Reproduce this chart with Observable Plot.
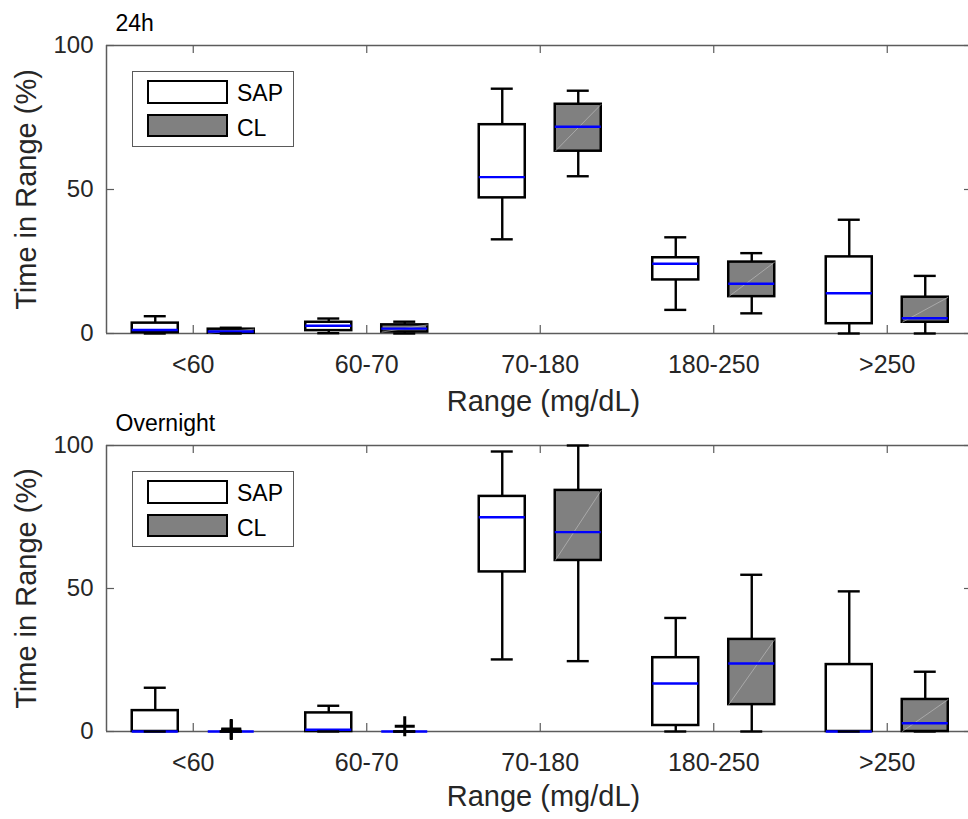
<!DOCTYPE html>
<html><head><meta charset="utf-8">
<script src="https://cdn.jsdelivr.net/npm/d3@7"></script>
<script src="https://cdn.jsdelivr.net/npm/@observablehq/plot@0.6"></script>
<style>
body{margin:0;background:#fff;font-family:"Liberation Sans",Arial,sans-serif;}
#wrap{position:relative;width:968px;height:819px;overflow:hidden;background:#fff;}
.panel{position:absolute;left:0;width:968px;}
.panel svg{display:block;}
.legend{position:absolute;left:132px;width:160px;height:74px;border:1px solid #5a5a5a;background:#fff;}
.sw{position:absolute;left:14px;width:77px;border:2px solid #000;}
.lt{position:absolute;left:104px;font-size:23px;line-height:23px;color:#000;white-space:nowrap;}
</style></head><body><div id="wrap"></div>
<script>
// ---- data ----
const categories = ["<60", "60-70", "70-180", "180-250", ">250"];
const groups = ["SAP", "CL"];
const panelTitles = ["24h", "Overnight"];
const xLabel = "Range (mg/dL)";
const yLabel = "Time in Range (%)";
const yTicks = [0, 50, 100];

// five-number summaries per category: [lower whisker, Q1, median, Q3, upper whisker]
const sap24 = [[0, 0.3, 1.2, 3.6, 6.0], [0.1, 1.0, 2.7, 3.9, 5.2], [32.7, 47.1, 54.3, 72.5, 85.0], [8.2, 18.6, 24.2, 26.3, 33.4], [0, 3.4, 14.0, 26.6, 39.5]];
const cl24 = [[0, 0.1, 0.7, 1.5, 2.0], [0, 0.5, 1.7, 3.0, 4.1], [54.6, 63.3, 71.8, 79.6, 84.3], [7.0, 12.8, 17.3, 24.8, 27.9], [0, 3.9, 5.3, 12.6, 20.0]];
const sapNight = [[0, 0, 0, 7.3, 15.3], [0, 0, 0.6, 6.5, 9.0], [25.2, 55.8, 74.9, 82.2, 97.9], [0, 2.1, 16.8, 25.8, 39.7], [0, 0, 0, 23.4, 49.0]];
const clNight = [[0, 0, 0, 0, 0], [0, 0, 0, 0, 0], [24.6, 59.8, 69.7, 84.3, 100], [0, 9.4, 23.8, 32.2, 54.8], [0, 0, 2.9, 11.2, 20.9]];
// outliers: [category index, group index, value]
const outliers24 = [];
const outliersNight = [[0, 1, 0.5], [0, 1, 0.9], [1, 1, 1.8]];

// ---- styles ----
const groupFill = ["#ffffff", "#808080"];
const axisColor = "#5c5c5c";
const textColor = "#262626";
const medianColor = "#0000ff";
const OFF = 0.219, HW = 0.1326, CW = 0.0634;
const W = 968, ML = 106;

function buildRows(sap, cl) {
  const rows = [];
  [sap, cl].forEach((s, gi) => {
    s.forEach((v, ci) => {
      const [lo, q1, med, q3, hi] = v;
      rows.push({group: groups[gi], gi, ci, x: ci + 1 + (gi === 0 ? -OFF : OFF), lo, q1, med, q3, hi});
    });
  });
  return rows;
}

function makePanel(sap, cl, outs, title, top, height, mTop, mBottom, xlabDy) {
  const rows = buildRows(sap, cl);
  const outRows = outs.map(([ci, gi, v]) => ({x: ci + 1 + (gi === 0 ? -OFF : OFF), v}));
  const innerH = height - mTop - mBottom;
  const innerW = W - ML;
  const xTicks = categories.map((_, i) => i + 1);
  const chart = Plot.plot({
    width: W, height,
    marginLeft: ML, marginRight: 0, marginTop: mTop, marginBottom: mBottom,
    x: {domain: [0.5, categories.length + 0.5], range: [ML, ML + 173.5 * categories.length], axis: null},
    y: {domain: [0, 100], axis: null},
    style: {fontFamily: '"Liberation Sans", Arial, sans-serif', color: textColor, background: "transparent", overflow: "visible"},
    marks: [
      // spines
      Plot.ruleY([0, 100], {stroke: axisColor, strokeWidth: 1.5}),
      Plot.ruleX([0.5, categories.length + 0.5], {stroke: axisColor, strokeWidth: 1.5}),
      // inward ticks
      Plot.ruleX(xTicks, {x: d => d, insetTop: innerH - 8, stroke: axisColor, strokeWidth: 1.2}),
      Plot.ruleX(xTicks, {x: d => d, insetBottom: innerH - 8, stroke: axisColor, strokeWidth: 1.2}),
      Plot.ruleY(yTicks, {y: d => d, insetRight: innerW - 8, stroke: axisColor, strokeWidth: 1.2}),
      Plot.ruleY(yTicks, {y: d => d, insetLeft: innerW - 4, stroke: axisColor, strokeWidth: 1.2}),
      // tick labels
      Plot.axisX(xTicks, {tickSize: 0, tickPadding: 22, tickFormat: i => categories[i - 1], fontSize: 25, label: null}),
      Plot.axisY(yTicks, {tickSize: 0, tickPadding: 13, fontSize: 24, label: null}),
      // whiskers
      Plot.ruleX(rows, {x: "x", y1: "q3", y2: "hi", stroke: "#000", strokeWidth: 2.4}),
      Plot.ruleX(rows, {x: "x", y1: "lo", y2: "q1", stroke: "#000", strokeWidth: 2.4}),
      // boxes
      Plot.rect(rows, {x1: d => d.x - HW, x2: d => d.x + HW, y1: "q1", y2: "q3", fill: d => groupFill[d.gi], stroke: "#000", strokeWidth: 2.5}),
      Plot.link(rows.filter(d => d.gi === 1 && d.q3 > d.q1), {x1: d => d.x - HW, y1: "q1", x2: d => d.x + HW, y2: "q3", stroke: "#c4c4c4", strokeWidth: 0.6}),
      // medians
      Plot.ruleY(rows, {y: "med", x1: d => d.x - HW, x2: d => d.x + HW, stroke: medianColor, strokeWidth: 2.4}),
      // caps
      Plot.ruleY(rows, {y: "hi", x1: d => d.x - CW, x2: d => d.x + CW, stroke: "#000", strokeWidth: 2.4}),
      Plot.ruleY(rows, {y: "lo", x1: d => d.x - CW, x2: d => d.x + CW, stroke: "#000", strokeWidth: 2.4}),
      // outliers
      Plot.dot(outRows, {x: "x", y: "v", symbol: "plus", r: 6.5, stroke: "#000", strokeWidth: 3}),
      // texts
      Plot.text([title], {frameAnchor: "top-left", dx: 9, dy: -15, lineAnchor: "bottom", textAnchor: "start", fontSize: 23, fill: "#000"}),
      Plot.text([xLabel], {frameAnchor: "bottom", dx: 6, dy: xlabDy, lineAnchor: "bottom", textAnchor: "middle", fontSize: 29, fill: textColor, letterSpacing: "1.2px"}),
      Plot.text([yLabel], {frameAnchor: "left", dx: -71, rotate: -90, lineAnchor: "bottom", textAnchor: "middle", fontSize: 29, fill: textColor, letterSpacing: "1.2px"})
    ]
  });
  const div = document.createElement("div");
  div.className = "panel";
  div.style.top = top + "px";
  div.style.height = height + "px";
  div.appendChild(chart);
  // legend
  const lg = document.createElement("div");
  lg.className = "legend";
  lg.style.top = (mTop + 26) + "px";
  groups.forEach((g, gi) => {
    const sw = document.createElement("div");
    sw.className = "sw";
    sw.style.top = (gi === 0 ? 8 : 42) + "px";
    sw.style.height = (gi === 0 ? 20 : 19) + "px";
    sw.style.background = groupFill[gi];
    lg.appendChild(sw);
    const t = document.createElement("div");
    t.className = "lt";
    t.style.top = (gi === 0 ? 10 : 44.5) + "px";
    t.textContent = g;
    lg.appendChild(t);
  });
  div.appendChild(lg);
  document.getElementById("wrap").appendChild(div);
}

makePanel(sap24, cl24, outliers24, panelTitles[0], 0, 400, 45, 67, 77);
makePanel(sapNight, clNight, outliersNight, panelTitles[1], 400, 419, 45, 88, 74);
</script>
</body></html>
